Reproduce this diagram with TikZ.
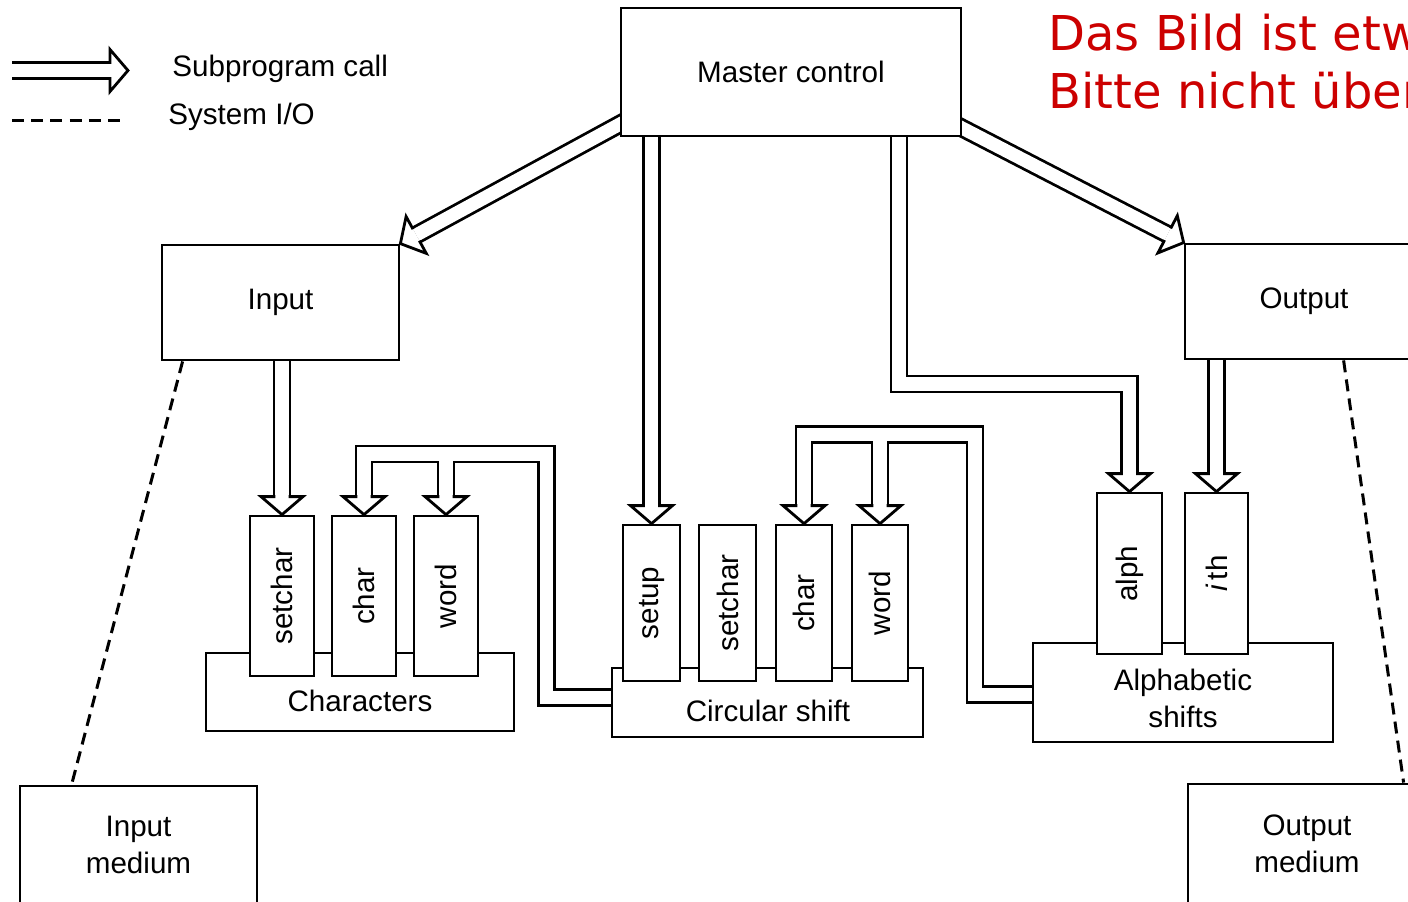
\documentclass[tikz,border=0pt]{standalone}
\usepackage{fontspec}
\usepackage{graphicx}
\setmainfont{Liberation Sans}
\newfontfamily\redfont{DejaVu Sans}
\usetikzlibrary{calc}
\pgfdeclarelayer{bg}
\pgfsetlayers{bg,main}
\definecolor{warnred}{RGB}{204,0,0}
\newcommand\allchannels[1]{%
  % legend
  \draw[#1] (la) -- (lb);
  % master -> input / output
  \draw[#1] ($(ml)!-8pt!(input.north east)$) -- (input.north east);
  \draw[#1] ($(mr)!-8pt!(output.north west)$) -- (output.north west);
  % straight calls
  \draw[#1] (input.south -| c1.north) -- (c1.north);
  \draw[#1] (master.south -| cs1.north) -- (cs1.north);
  \draw[#1] (output.south -| a2.north) -- (a2.north);
  \draw[#1] (master.south -| k5) -- (k5) -- (k5 -| a1.north) -- (a1.north);
  % circular shift -> characters
  \draw[#1] (circ.west |- k1) -- (k1) -- (k2) -- (k2 -| c2.north) -- (c2.north);
  \draw[#1] (k2 -| c3.north) -- (c3.north);
  % alphabetic shifts -> circular shift
  \draw[#1] (alpha.west |- k3) -- (k3) -- (k4) -- (k4 -| cs3.north) -- (cs3.north);
  \draw[#1] (k4 -| cs4.north) -- (cs4.north);
}
\begin{document}
\begin{tikzpicture}[x=0.5pt,y=-0.5pt,
  box/.style={draw, line width=1.4pt, fill=white, inner sep=0pt, align=center,
    font=\fontsize{14.8}{18.5}\selectfont},
  lbl/.style={inner sep=0pt, font=\fontsize{14.8}{18.5}\selectfont},
  chanb/.style={line width=9.4pt, black, line join=miter, miter limit=10, shorten >=9pt},
  chanw/.style={line width=6.6pt, white, line join=miter, miter limit=10, shorten >=9pt},
  dashline/.style={line width=1.5pt, dash pattern=on 6pt off 3.6pt},
  hhead/.pic={\filldraw[fill=white, line width=1.4pt, line join=miter, miter limit=10]
     (-9pt,3.3pt) -- (-9pt,10.5pt) -- (0,0) -- (-9pt,-10.5pt) -- (-9pt,-3.3pt);}
]
\useasboundingbox (0,0) rectangle (1408,901);

% legend
\coordinate (la) at (12,70.5);
\coordinate (lb) at (128,70.5);
\coordinate (ld1) at (12,120);
\coordinate (ld2) at (122,120);
\node[lbl, anchor=west] (l1) at (172,69) {Subprogram call};
\node[lbl, anchor=west] (l2) at (168,117) {System I/O};

% main boxes
\node[box, minimum width=170pt, minimum height=64pt] (master) at (791,72) {Master control};
\node[box, minimum width=118.5pt, minimum height=57.5pt] (input) at (280.5,302.5) {Input};
\node[box, minimum width=119pt, minimum height=57.5pt] (output) at (1304,301.5) {Output};
\node[box, minimum width=118.5pt, minimum height=58.5pt] (inmed) at (138.5,844.5) {Input\\medium};
\node[box, minimum width=119pt, minimum height=59.5pt] (outmed) at (1307,843.5) {Output\\medium};

% group boxes
\node[box, minimum width=154pt, minimum height=39pt] (chars) at (360,692) {};
\node[box, minimum width=155.5pt, minimum height=34.5pt] (circ) at (767.5,702.5) {};
\node[box, minimum width=150pt, minimum height=49.5pt] (alpha) at (1183,692.5) {};
\node[lbl] (tchars) at (360,701) {Characters};
\node[lbl] (tcirc) at (768,711) {Circular shift};
\node[lbl, align=center] (talpha) at (1183,698) {Alphabetic\\shifts};

% procedure boxes
\node[box, minimum width=32pt, minimum height=80pt] (c1) at (282,596) {\rotatebox{90}{setchar}};
\node[box, minimum width=32pt, minimum height=80pt] (c2) at (364,596) {\rotatebox{90}{char}};
\node[box, minimum width=32pt, minimum height=80pt] (c3) at (446,596) {\rotatebox{90}{word}};
\node[box, minimum width=28.5pt, minimum height=78pt] (cs1) at (651.5,603) {\rotatebox{90}{setup}};
\node[box, minimum width=28.5pt, minimum height=78pt] (cs2) at (727.5,603) {\rotatebox{90}{setchar}};
\node[box, minimum width=28pt, minimum height=78pt] (cs3) at (804,603) {\rotatebox{90}{char}};
\node[box, minimum width=28pt, minimum height=78pt] (cs4) at (880,603) {\rotatebox{90}{word}};
\node[box, minimum width=32.5pt, minimum height=80.5pt] (a1) at (1129.5,573.5) {\rotatebox{90}{alph}};
\node[box, minimum width=31.5pt, minimum height=80.5pt] (a2) at (1216.5,573.5) {\rotatebox{90}{{\itshape i}\,th}};

% bend points
\coordinate (ml) at (621,123.5);
\coordinate (mr) at (961,127.5);
\coordinate (k1) at (546.5,697.5);
\coordinate (k2) at (546.5,454);
\coordinate (k3) at (975,694.5);
\coordinate (k4) at (975,434.5);
\coordinate (k5) at (899,384);

\begin{pgfonlayer}{bg}
  \allchannels{chanb}
  \allchannels{chanw}
\end{pgfonlayer}

% arrow heads
\pic at (lb) {hhead};
\pic[rotate=-151.3] at (input.north east) {hhead};
\pic[rotate=-27.5] at (output.north west) {hhead};
\foreach \t in {c1,c2,c3,cs1,cs3,cs4,a1,a2} {\pic[rotate=-90] at (\t.north) {hhead};}

% system I/O
\draw[dashline] (ld1) -- (ld2);
\draw[dashline] ([xshift=11pt]input.south west) -- ([xshift=26.5pt]inmed.north west);
\draw[dashline] ([xshift=80pt]output.south west) -- ([xshift=108.5pt]outmed.north west);

% note
\node[anchor=base west, inner sep=0pt, text=warnred, font=\redfont\fontsize{24}{28}\selectfont] (w1) at (1048,50) {Das Bild ist etw};
\node[anchor=base west, inner sep=0pt, text=warnred, font=\redfont\fontsize{24}{28}\selectfont] (w2) at (1048,108) {Bitte nicht über};
\end{tikzpicture}
\end{document}
